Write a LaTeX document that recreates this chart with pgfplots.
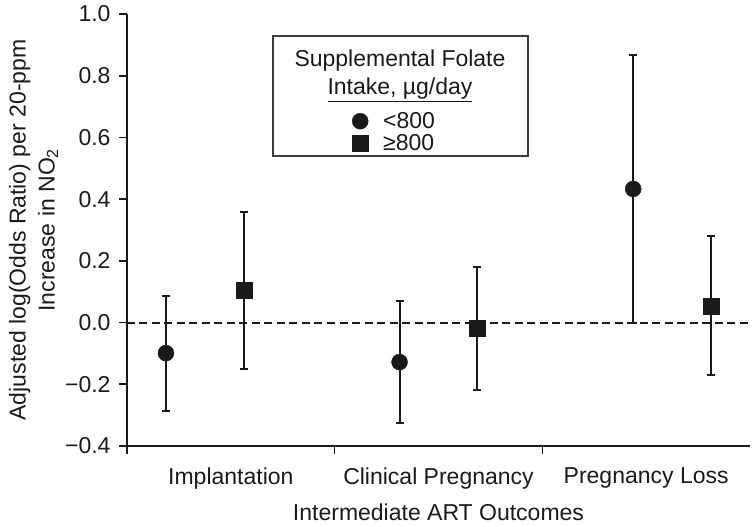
\documentclass[border=0pt]{standalone}
\usepackage{fontspec}
\setmainfont{Liberation Sans}
\usepackage{pgfplots}
\usepackage{pgfplotstable}
\pgfplotsset{compat=1.18}
\usetikzlibrary{calc}
\definecolor{ink}{HTML}{1A1A1A}
\def\F{\fontsize{23bp}{29bp}\selectfont}
\pgfplotstableread{
x y ep em
0.1875 -0.099 0.185 0.189
1.3125 -0.128 0.198 0.199
2.4375 0.433 0.434 0.435
}\lowtab
\pgfplotstableread{
x y ep em
0.5625 0.105 0.253 0.254
1.6875 -0.018 0.198 0.200
2.8125 0.054 0.225 0.223
}\hightab
\begin{document}
\begin{tikzpicture}
\begin{axis}[
 width=623bp, height=432bp, scale only axis,
 xmin=0, xmax=3, ymin=-0.4, ymax=1.0,
 axis x line*=bottom, axis y line*=left,
 axis line style={line width=1.6bp, draw=ink, -},
 xtick={0,1,2}, xticklabels={,,},
 extra x ticks={0.5,1.5,2.5},
 extra x tick labels={Implantation,Clinical Pregnancy,Pregnancy Loss},
 extra x tick style={major tick length=0pt, xticklabel style={yshift=-18bp}},
 ytick={-0.4,-0.2,0,0.2,0.4,0.6,0.8,1.0},
 yticklabels={−0.4,−0.2,0.0,0.2,0.4,0.6,0.8,1.0},
 tick align=outside, major tick length=8bp,
 tick style={line width=1.6bp, draw=ink},
 ticklabel style={font=\F, text=ink},
 yticklabel style={xshift=-5bp},
 xlabel={Intermediate ART Outcomes},
 ylabel={Adjusted log(Odds Ratio) per 20-ppm\\Increase in NO\textsubscript{2}},
 ylabel style={align=center, font=\F, text=ink},
 ylabel shift=0bp,
 xlabel style={font=\F, text=ink},
 xlabel shift=0bp,
 legend style={at={(axis cs:1.0835,0.6177)}, anchor=west, draw=none, fill=none,
   font=\F, text=ink, inner sep=0pt, row sep=0bp, column sep=13bp},
 legend cell align=left,
 clip=false,
]
\addplot[ink, line width=2bp, dash pattern=on 8bp off 4.5bp, forget plot] coordinates {(0,0) (3,0)};
\addplot[only marks, mark=*, mark size=8bp, ink, mark options={fill=ink, draw=ink},
  error bars/.cd, y dir=both, y explicit,
  error bar style={line width=2bp, ink},
  error mark options={rotate=90, mark size=4bp, line width=2bp, ink}]
  table[x=x, y=y, y error plus=ep, y error minus=em] {\lowtab};
\addlegendentry{<800}
\addplot[only marks, mark=square*, mark size=8bp, ink, mark options={fill=ink, draw=ink},
  error bars/.cd, y dir=both, y explicit,
  error bar style={line width=2bp, ink},
  error mark options={rotate=90, mark size=4bp, line width=2bp, ink}]
  table[x=x, y=y, y error plus=ep, y error minus=em] {\hightab};
\addlegendentry{≥800}
\draw[line width=1.6bp, draw=ink!85] (axis cs:0.703,0.929) rectangle (axis cs:1.931,0.540);
\node[font=\fontsize{23bp}{28bp}\selectfont, text=ink, align=center] at (axis cs:1.3146,0.7991)
  {Supplemental Folate\\\underline{Intake, µg/day}};
\end{axis}
\pgfresetboundingbox
\path ($(current axis.south west)+(-127bp,-81bp)$) rectangle ($(current axis.north east)+(2bp,14bp)$);
\end{tikzpicture}
\end{document}
